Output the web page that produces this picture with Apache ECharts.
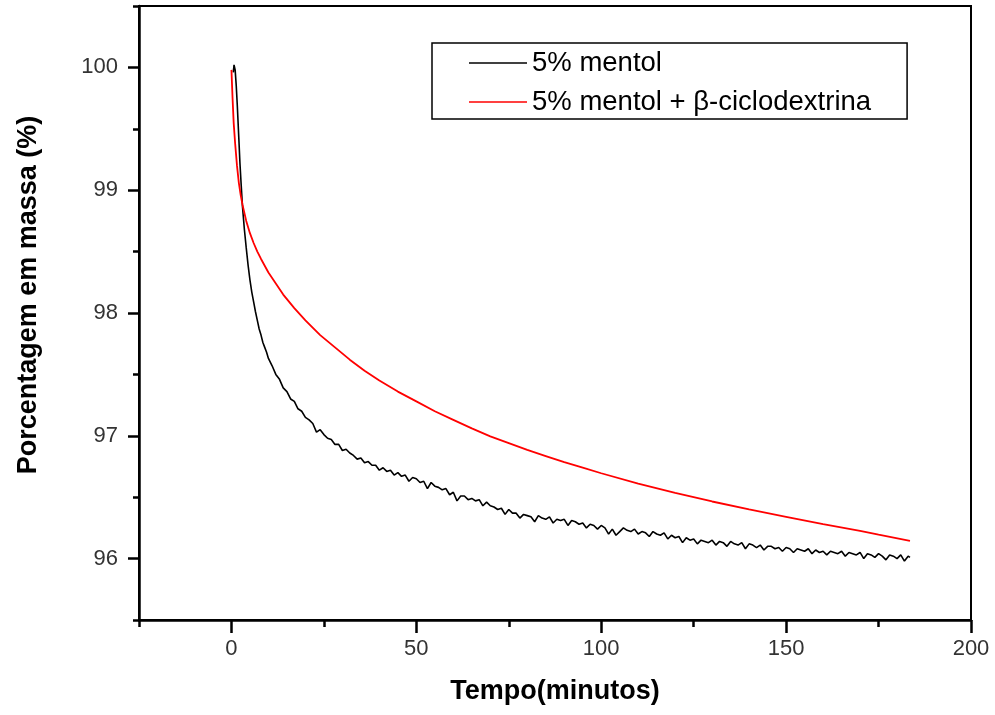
<!DOCTYPE html>
<html>
<head>
<meta charset="utf-8">
<script src="https://cdn.jsdelivr.net/npm/echarts@6/dist/echarts.min.js"></script>
<style>html,body{margin:0;padding:0;background:#fff;}#c{width:995px;height:715px;}</style>
</head>
<body>
<div id="c"></div>
<script>
// ---- data ----
const seriesNames = ['5% mentol', '5% mentol + \u03b2-ciclodextrina'];
const xTickLabels = [0, 50, 100, 150, 200];
const xMinorTicks = [-25, 25, 75, 125, 175];
const yTickLabels = [96, 97, 98, 99, 100];
const yMinorTicks = [95.5, 96.5, 97.5, 98.5, 99.5, 100.5];

const blackTime = [0.5,0.7,0.8,1.0,1.3,1.6,2.0,2.3,2.6,3.0,3.5,4.0,4.5,5.0,5.5,6.0,6.5,7.0,7.5,8.0,8.5,9.0,9.5,
10,11,12,13,14,15,16,17,18,19,20,21,22,23,24,25,26,27,28,29,30,31,32,33,34,35,36,37,38,39,40,
41,42,43,44,45,46,47,48,49,50,51,52,53,54,55,56,57,58,59,60,61,62,63,64,65,66,67,68,69,70,
71,72,73,74,75,76,77,78,79,80,81,82,83,84,85,86,87,88,89,90,91,92,93,94,95,96,97,98,99,100,
101,102,103,104,105,106,107,108,109,110,111,112,113,114,115,116,117,118,119,120,
121,122,123,124,125,126,127,128,129,130,131,132,133,134,135,136,137,138,139,140,
141,142,143,144,145,146,147,148,149,150,151,152,153,154,155,156,157,158,159,160,
161,162,163,164,165,166,167,168,169,170,171,172,173,174,175,176,177,178,179,180,
181,182,183,183.5];
const blackMass = [99.96,100.02,100.03,99.98,99.85,99.68,99.42,99.22,99.06,98.86,98.68,98.53,98.39,98.27,98.17,98.09,98.01,97.94,97.87,97.82,97.76,97.72,97.68,
97.63,97.57,97.50,97.46,97.39,97.36,97.30,97.28,97.22,97.20,97.15,97.13,97.10,97.03,97.05,97.01,96.98,96.97,96.93,96.93,96.88,96.89,96.86,96.84,96.81,96.82,96.78,96.79,96.76,96.76,96.72,
96.74,96.71,96.72,96.68,96.70,96.67,96.68,96.63,96.66,96.65,96.62,96.63,96.57,96.62,96.59,96.58,96.56,96.57,96.52,96.54,96.47,96.51,96.51,96.48,96.49,96.47,96.48,96.43,96.46,96.43,
96.42,96.40,96.41,96.36,96.40,96.37,96.37,96.33,96.36,96.35,96.34,96.30,96.35,96.33,96.32,96.34,96.29,96.32,96.31,96.32,96.27,96.31,96.30,96.28,96.29,96.25,96.28,96.27,96.24,96.27,
96.25,96.20,96.24,96.19,96.22,96.25,96.23,96.22,96.24,96.20,96.22,96.21,96.18,96.22,96.20,96.19,96.21,96.16,96.19,96.17,
96.18,96.13,96.17,96.15,96.16,96.12,96.15,96.14,96.13,96.15,96.11,96.14,96.13,96.10,96.14,96.12,96.11,96.13,96.08,96.12,
96.11,96.09,96.11,96.07,96.10,96.10,96.08,96.09,96.06,96.09,96.08,96.05,96.08,96.07,96.06,96.08,96.04,96.07,96.05,96.06,
96.03,96.06,96.05,96.04,96.06,96.02,96.05,96.04,96.03,96.05,96.00,96.04,96.03,96.01,96.04,96.02,95.99,96.03,96.02,96.00,
96.03,95.98,96.02,96.01];

const redTime = [0,0.3,0.6,1,1.5,2,2.5,3,4,5,6,7,8,10,12,14,17,20,24,28,32,36,40,45,50,55,60,65,70,75,80,85,90,95,100,110,120,130,140,150,160,170,175,183.5];
const redMass = [99.98,99.75,99.55,99.38,99.2,99.06,98.96,98.88,98.75,98.65,98.57,98.50,98.44,98.33,98.24,98.15,98.04,97.94,97.82,97.72,97.62,97.53,97.45,97.36,97.28,97.20,97.13,97.06,96.995,96.94,96.885,96.835,96.785,96.74,96.695,96.61,96.535,96.465,96.40,96.34,96.28,96.225,96.195,96.145];

// ---- chart ----
const zip = (a, b) => a.map((v, i) => [v, b[i]]);
const FONT = '"Liberation Sans", Arial, sans-serif';
const LINE_ICON = 'path://M0,0H58V1.6H0Z';
const chart = echarts.init(document.getElementById('c'), null, {renderer: 'canvas'});
chart.setOption({
  animation: false,
  backgroundColor: '#fff',
  grid: {left: 139, right: 24, top: 6, bottom: 95, show: true, borderColor: '#000', borderWidth: 2, backgroundColor: 'transparent'},
  legend: {
    data: [{name: seriesNames[0], icon: LINE_ICON}, {name: seriesNames[1], icon: LINE_ICON}],
    orient: 'vertical',
    left: 432, top: 43,
    padding: [5, 36, 2, 37],
    itemWidth: 58, itemHeight: 14, itemGap: 9,
    borderColor: '#000', borderWidth: 1.5,
    textStyle: {fontFamily: FONT, fontSize: 27.5, color: '#000', lineHeight: 30}
  },
  xAxis: [{
    type: 'value', min: -25, max: 200,
    name: 'Tempo(minutos)', nameLocation: 'middle', nameGap: 58,
    nameTextStyle: {fontFamily: FONT, fontSize: 27, fontWeight: 'bold', color: '#000'},
    axisLine: {show: true, onZero: false, lineStyle: {color: '#000', width: 2.5}},
    axisTick: {show: true, inside: false, length: 13, customValues: xTickLabels, lineStyle: {color: '#000', width: 2.5}},
    axisLabel: {customValues: xTickLabels, margin: 18, fontFamily: FONT, fontSize: 22, color: '#333'},
    splitLine: {show: false}
  }, {
    type: 'value', min: -25, max: 200, position: 'bottom',
    axisLine: {show: false, onZero: false},
    axisTick: {show: true, length: 7, customValues: xMinorTicks, lineStyle: {color: '#000', width: 2.5}},
    axisLabel: {show: false},
    splitLine: {show: false}
  }],
  yAxis: [{
    type: 'value', min: 95.5, max: 100.5, position: 'left',
    name: 'Porcentagem em massa (%)', nameLocation: 'middle', nameGap: 97,
    nameTextStyle: {fontFamily: FONT, fontSize: 27, fontWeight: 'bold', color: '#000', padding: [0, 0, 0, 36]},
    axisLine: {show: true, onZero: false, lineStyle: {color: '#000', width: 2.5}},
    axisTick: {show: true, length: 11, customValues: yTickLabels, lineStyle: {color: '#000', width: 2.5}},
    axisLabel: {customValues: yTickLabels, margin: 21, fontFamily: FONT, fontSize: 22, color: '#333'},
    splitLine: {show: false}
  }, {
    type: 'value', min: 95.5, max: 100.5, position: 'left',
    axisLine: {show: false, onZero: false},
    axisTick: {show: true, length: 6, customValues: yMinorTicks, lineStyle: {color: '#000', width: 2.5}},
    axisLabel: {show: false},
    splitLine: {show: false}
  }],
  series: [{
    name: seriesNames[0], type: 'line', xAxisIndex: 0, yAxisIndex: 0,
    data: zip(blackTime, blackMass), symbol: 'none', smooth: false,
    lineStyle: {color: '#000', width: 1.6}, itemStyle: {color: '#000'}
  }, {
    name: seriesNames[1], type: 'line', xAxisIndex: 0, yAxisIndex: 0,
    data: zip(redTime, redMass), symbol: 'none', smooth: false,
    lineStyle: {color: '#ff0000', width: 1.8}, itemStyle: {color: '#ff0000'}
  }]
});
</script>
</body>
</html>
